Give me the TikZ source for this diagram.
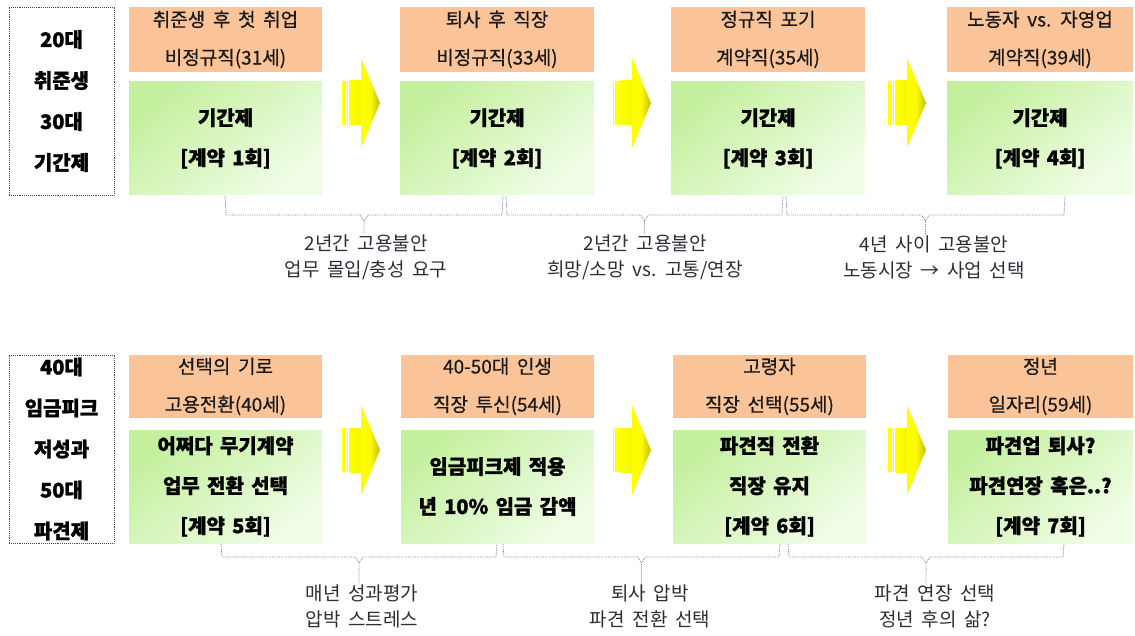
\documentclass[tikz,border=0pt]{standalone}
\usepackage{fontspec}
\setmainfont{Noto Sans CJK KR}[WordSpace=1.8]
\newfontfamily\heavyfont{Noto Sans CJK KR}[WordSpace=1.6, BoldFeatures={FakeBold=1.3}]
\newfontfamily\medfont{Noto Sans CJK KR}[WordSpace=1.8, FakeBold=0.5]
\definecolor{peach}{RGB}{251,196,152}
\definecolor{grA}{RGB}{196,240,158}
\definecolor{grB}{RGB}{240,253,230}
\definecolor{ylw}{RGB}{255,255,0}
\definecolor{ylwD}{RGB}{196,188,0}
\definecolor{brc}{RGB}{125,125,125}
\definecolor{lbl}{RGB}{45,45,55}
\newcommand\dobrace[6]{% xl, xr, ytop, yh, ybot(unused), label node
  \pgfmathsetmacro\xm{(#1+#2)/2}%
  \draw[bracestyle] (#1,#3) -- (#1+1,#4) -- (\xm-4,#4) -- (\xm,#4+6) -- ({\xm},0 |- #6.north);
  \draw[bracestyle] (\xm,#4+6) -- (\xm+4,#4) -- (#2-1,#4) -- (#2,#3);}
\begin{document}
\begin{tikzpicture}[x=1pt,y=-1pt,
  agebox/.style={fill=peach, draw=none, inner sep=0, align=center,
    font=\medfont\fontsize{19}{38}\selectfont, text=black!90},
  jobbox/.style={draw=none, inner sep=0, align=center, top color=grA, bottom color=grB,
    shading angle=40, minimum height=113,
    font=\heavyfont\bfseries\fontsize{20}{40}\selectfont},
  sidebox/.style={draw=black!70, densely dotted, line width=0.9pt, inner sep=0, align=center,
    minimum width=105, minimum height=188, font=\heavyfont\bfseries\fontsize{20}{41}\selectfont},
  lab/.style={inner sep=0, align=center, text=lbl, font=\fontsize{19}{26}\selectfont},
  bracestyle/.style={draw=brc, densely dotted, line width=0.8pt},
  pics/yarrow/.style={code={
    \fill[ylw] (0,-22) rectangle (1.3,22);
    \fill[ylw] (2.3,-22) rectangle (3.8,22);
    \fill[ylw] (4.8,-22) rectangle (6.3,22);
    \shade[left color=ylw, right color=ylw!85!ylwD] (7.3,-22) rectangle (19.5,22);
    \shade[left color=ylw, right color=ylwD, middle color=ylw!92!ylwD]
       (19,-45) -- (38,0) -- (19,45) -- cycle;
  }}]
\useasboundingbox (0,0) rectangle (1135,636);

% ---------- row 1 ----------
\node[sidebox] (s1) at (61.5,101) {20대\\취준생\\30대\\기간제};

\node[agebox, minimum width=193, minimum height=65] (o1) at (225.5,39.5) {취준생 후 첫 취업\\비정규직(31세)};
\node[agebox, minimum width=194, minimum height=65] (o2) at (497,39.5) {퇴사 후 직장\\비정규직(33세)};
\node[agebox, minimum width=194, minimum height=65] (o3) at (768,39.5) {정규직 포기\\계약직(35세)};
\node[agebox, minimum width=186, minimum height=65] (o4) at (1040,39.5) {노동자 vs. 자영업\\계약직(39세)};

\node[jobbox, minimum width=193] (g1) at (225.5,138.5) {기간제\\{[}계약 1회{]}};
\node[jobbox, minimum width=194] (g2) at (497,138.5) {기간제\\{[}계약 2회{]}};
\node[jobbox, minimum width=194] (g3) at (768,138.5) {기간제\\{[}계약 3회{]}};
\node[jobbox, minimum width=186] (g4) at (1040,138.5) {기간제\\{[}계약 4회{]}};

\pic at (342,103) {yarrow};
\pic at (613,103) {yarrow};
\pic at (888,103) {yarrow};

\node[lab] (l1) at (366,257) {2년간 고용불안\\업무 몰입/충성 요구};
\node[lab] (l2) at (645,257) {2년간 고용불안\\희망/소망 vs. 고통/연장};
\node[lab] (l3) at (934,257) {4년 사이 고용불안\\노동시장 → 사업 선택};

\dobrace{225}{503}{196}{215}{235}{l1}
\dobrace{506}{783}{196}{215}{235}{l2}
\dobrace{786}{1065}{196}{215}{235}{l3}

% ---------- row 2 ----------
\node[sidebox] (s2) at (61.5,449) {40대\\임금피크\\저성과\\50대\\파견제};

\node[agebox, minimum width=193, minimum height=63] (p1) at (225.5,386.5) {선택의 기로\\고용전환(40세)};
\node[agebox, minimum width=193, minimum height=63] (p2) at (497.5,386.5) {40-50대 인생\\직장 투신(54세)};
\node[agebox, minimum width=193, minimum height=63] (p3) at (769.5,386.5) {고령자\\직장 선택(55세)};
\node[agebox, minimum width=185, minimum height=63] (p4) at (1040.5,386.5) {정년\\일자리(59세)};

\node[jobbox, minimum width=193] (h1) at (225.5,486.5) {어쩌다 무기계약\\업무 전환 선택\\{[}계약 5회{]}};
\node[jobbox, minimum width=193] (h2) at (497.5,486.5) {임금피크제 적용\\년 10\% 임금 감액};
\node[jobbox, minimum width=193] (h3) at (769.5,486.5) {파견직 전환\\직장 유지\\{[}계약 6회{]}};
\node[jobbox, minimum width=185] (h4) at (1040.5,486.5) {파견업 퇴사?\\파견연장 혹은..?\\{[}계약 7회{]}};

\pic at (342,450) {yarrow};
\pic at (613,450) {yarrow};
\pic at (888,450) {yarrow};

\node[lab] (m1) at (362,606) {매년 성과평가\\압박 스트레스};
\node[lab] (m2) at (650,606) {퇴사 압박\\파견 전환 선택};
\node[lab] (m3) at (935,606) {파견 연장 선택\\정년 후의 삶?};

\dobrace{221}{497}{544}{557}{578}{m1}
\dobrace{503}{780}{544}{557}{578}{m2}
\dobrace{788}{1064}{544}{557}{578}{m3}
\end{tikzpicture}
\end{document}
